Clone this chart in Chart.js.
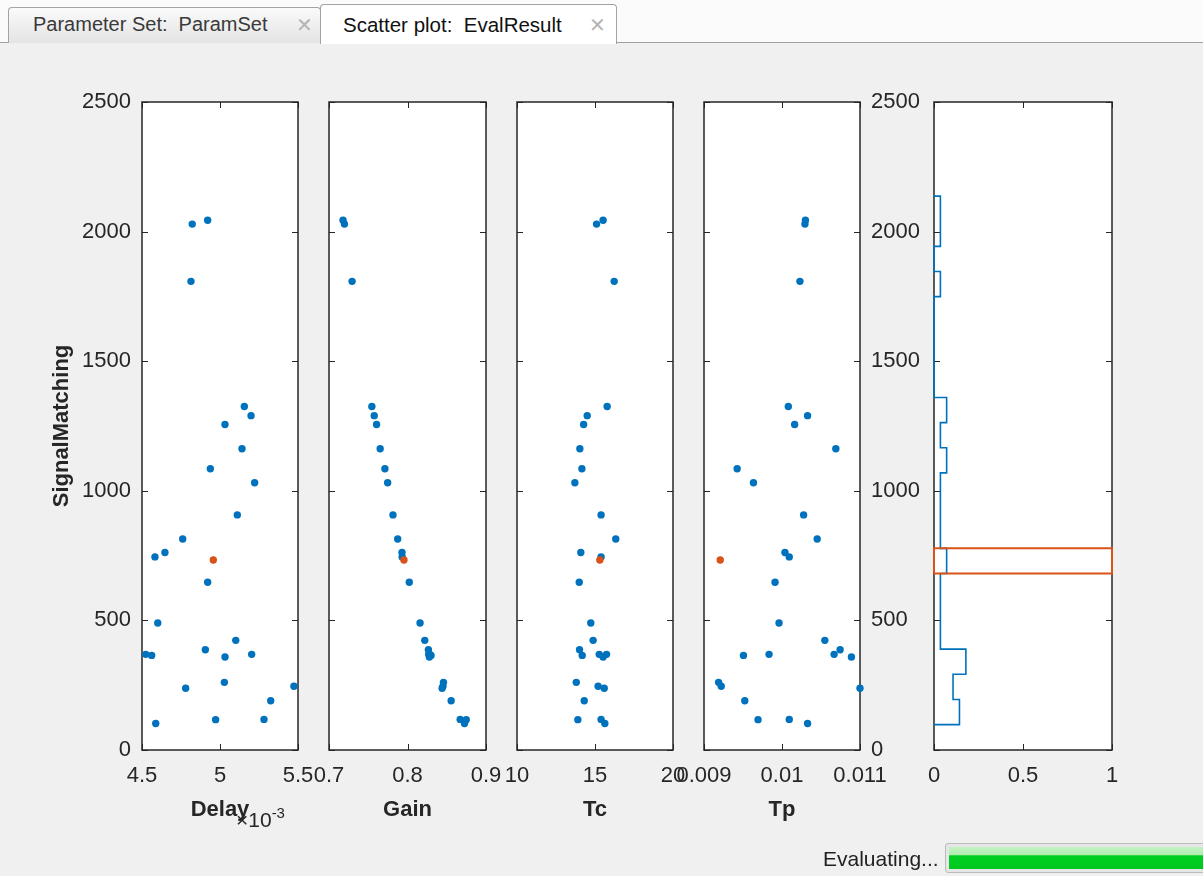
<!DOCTYPE html>
<html><head><meta charset="utf-8">
<script src="https://cdn.jsdelivr.net/npm/chart.js@4.4.1/dist/chart.umd.min.js"></script>
<style>
html,body{margin:0;padding:0;width:1203px;height:876px;overflow:hidden;background:#f0f0f0;font-family:"Liberation Sans",Arial,sans-serif;}
#strip{position:absolute;left:0;top:0;width:1203px;height:42px;background:#fbfbfb;border-bottom:1px solid #a0a0a0;}
.tab{position:absolute;box-sizing:border-box;border:1px solid #a3a3a3;border-bottom:none;border-radius:4px 4px 0 0;font-size:20px;white-space:pre;}
#tab1{left:8px;top:7px;width:313px;height:36px;background:linear-gradient(#fafafa,#e4e4e4);color:#3a3a3a;}
#tab2{left:320px;top:4px;width:297px;height:40px;background:#ffffff;color:#111;font-size:20.5px;}
.tab .lbl{position:absolute;}
#tab1 .lbl{left:24px;top:5px;}
#tab2 .lbl{left:22px;top:8px;}
.tab .x{position:absolute;color:#b5b5b5;font-size:20px;}
#tab1 .x{left:287px;top:5px;}
#tab2 .x{left:268px;top:8px;}
canvas{position:absolute;left:0;top:0;}
#expo{position:absolute;left:236px;top:808px;font-size:21px;color:#262626;white-space:nowrap;}
#expo sup{font-size:15px;position:relative;top:-4px;vertical-align:top;}
#evl{position:absolute;left:823px;top:847px;font-size:21px;color:#222;}
#bar{position:absolute;left:945px;top:843px;width:270px;height:30px;box-sizing:border-box;border:1px solid #bcbcbc;background:#e6e6e6;border-radius:3px;}
#bar div{position:absolute;left:3px;top:3px;right:3px;bottom:3px;background:linear-gradient(#c4f3c4 0%,#b0ecb0 35%,#00cf22 40%,#00c81f 100%);}
</style></head>
<body>
<div id="strip"></div>
<div class="tab" id="tab1"><span class="lbl">Parameter Set:  ParamSet</span><span class="x">✕</span></div>
<div class="tab" id="tab2"><span class="lbl">Scatter plot:  EvalResult</span><span class="x">✕</span></div>
<canvas id="c1" width="1203" height="876"></canvas>
<canvas id="c2" width="1203" height="876"></canvas>
<canvas id="c3" width="1203" height="876"></canvas>
<canvas id="c4" width="1203" height="876"></canvas>
<canvas id="c5" width="1203" height="876"></canvas>
<div id="expo">×10<sup>-3</sup></div>
<div id="evl">Evaluating...</div>
<div id="bar"><div></div></div>
<script>
// ---------------- data ----------------
const signalMatching = [2044,2029,1808,1325,1290,1256,1162,1085,1031,907,814,762,745,647,490,423,387,369,369,365,359,261,246,238,190,118,117,102];
const delayX1e3 = [4.921,4.822,4.814,5.156,5.199,5.032,5.141,4.938,5.222,5.111,4.761,4.647,4.583,4.921,4.601,5.101,4.906,4.524,5.203,4.562,5.032,5.028,5.474,4.780,5.325,5.282,4.972,4.588];
const gain = [0.7179,0.7197,0.7294,0.7546,0.7576,0.7606,0.7652,0.7712,0.7747,0.7815,0.7875,0.7930,0.7932,0.8023,0.8160,0.8220,0.8266,0.8270,0.8285,0.8300,0.8279,0.8458,0.8452,0.8441,0.8556,0.8671,0.8748,0.8726];
const tc = [15.52,15.10,16.23,15.78,14.50,14.27,14.03,14.16,13.71,15.39,16.33,14.09,15.39,13.99,14.73,14.88,14.01,15.27,15.74,14.18,15.52,13.80,15.20,15.59,14.31,15.39,13.90,15.63];
const tp = [0.010300,0.010294,0.010230,0.010081,0.010328,0.010162,0.010690,0.009425,0.009634,0.010277,0.010451,0.010038,0.010093,0.009911,0.009962,0.010549,0.010745,0.009834,0.010668,0.009506,0.010890,0.009187,0.009221,0.011000,0.009523,0.010093,0.009693,0.010328];
// current (highlighted) evaluation
const currentSM = 733, currentDelayX1e3 = 4.957, currentGain = 0.7955, currentTc = 15.31, currentTp = 0.009208;
// histogram (probability) of SignalMatching, horizontal stairs
const histEdges = [98,195,292,389,486,584,681,778,875,972,1069,1166,1263,1360,1457,1555,1652,1749,1846,1943,2040,2137];
const histProb = [0.143,0.107,0.179,0.036,0.036,0.036,0.071,0.036,0.036,0.036,0.071,0.036,0.071,0,0,0,0,0.036,0,0.036,0.036];
const highlightBin = 6;
// ticks
const yTicks = [0,500,1000,1500,2000,2500];
const delayTicks = [4.5,5,5.5], delayTickLabels = ['4.5','5','5.5'];
const gainTicks = [0.7,0.8,0.9], gainTickLabels = ['0.7','0.8','0.9'];
const tcTicks = [10,15,20], tcTickLabels = ['10','15','20'];
const tpTicks = [0.009,0.01,0.011], tpTickLabels = ['0.009','0.01','0.011'];
const probTicks = [0,0.5,1], probTickLabels = ['0','0.5','1'];

// ---------------- drawing ----------------
const BLUE = '#0072BD', ORANGE = '#D95319', AX = '#262626';
Chart.defaults.font.family = '"Liberation Sans", Arial, sans-serif';
Chart.defaults.color = AX;
const W = 1203, H = 876, TOP = 102, BOTTOM = 750, XAXH = 80;

const framePlugin = {
  id: 'frame',
  beforeDraw(chart) {
    const {ctx, chartArea: a} = chart;
    ctx.save(); ctx.fillStyle = '#fff';
    ctx.fillRect(a.left, a.top, a.right - a.left, a.bottom - a.top); ctx.restore();
  },
  beforeDatasetsDraw(chart) {
    const {ctx, chartArea: a, scales: {x, y}} = chart;
    const tl = 6;
    ctx.save();
    ctx.strokeStyle = AX; ctx.lineWidth = 1;
    ctx.beginPath();
    for (const t of x.ticks) {
      const px = Math.round(x.getPixelForValue(t.value)) + 0.5;
      ctx.moveTo(px, a.bottom); ctx.lineTo(px, a.bottom - tl);
      ctx.moveTo(px, a.top); ctx.lineTo(px, a.top + tl);
    }
    for (const t of y.ticks) {
      const py = Math.round(y.getPixelForValue(t.value)) + 0.5;
      ctx.moveTo(a.left, py); ctx.lineTo(a.left + tl, py);
      ctx.moveTo(a.right, py); ctx.lineTo(a.right - tl, py);
    }
    ctx.stroke();
    ctx.lineWidth = 1.5;
    ctx.strokeRect(a.left, a.top, a.right - a.left, a.bottom - a.top);
    ctx.restore();
  }
};

// yMode: 'left' (labels left), 'right' (labels right), 'none'
function makePanel(id, L, R, xr, xt, xtl, xTitle, yMode, yTitle, datasets) {
  const yW = yMode === 'none' ? 0 : (yTitle ? 100 : 70);
  const padL = yMode === 'left' ? L - yW : L;
  const padR = yMode === 'right' ? W - R - yW : W - R;
  new Chart(document.getElementById(id), {
    type: 'scatter',
    data: {datasets},
    options: {
      responsive: false, animation: false, devicePixelRatio: 1,
      events: [],
      layout: {padding: {left: padL, right: padR, top: TOP, bottom: H - BOTTOM - XAXH}},
      plugins: {legend: {display: false}, tooltip: {enabled: false}},
      scales: {
        x: {
          type: 'linear', min: xr[0], max: xr[1],
          afterBuildTicks: s => { s.ticks = xt.map(v => ({value: v})); },
          afterFit: s => { s.height = XAXH; },
          grid: {display: false, drawTicks: false},
          border: {display: false},
          ticks: {font: {size: 22}, padding: 13, maxRotation: 0, autoSkip: false,
                  callback: (v, i) => xtl[i]},
          title: {display: !!xTitle, text: xTitle, font: {size: 22, weight: 'bold'}, padding: {top: 0, bottom: 7}}
        },
        y: {
          type: 'linear', min: 0, max: 2500,
          position: yMode === 'right' ? 'right' : 'left',
          afterBuildTicks: s => { s.ticks = yTicks.map(v => ({value: v})); },
          afterFit: s => { s.width = yW; },
          grid: {display: false, drawTicks: false},
          border: {display: false},
          ticks: {display: yMode !== 'none', font: {size: 22}, padding: 11, autoSkip: false,
                  callback: v => String(v)},
          title: {display: !!yTitle, text: yTitle || '', font: {size: 22, weight: 'bold'}, padding: {top: 7, bottom: 0}}
        }
      }
    },
    plugins: [framePlugin]
  });
}

function scatterSets(xs, cx) {
  return [
    {data: [{x: cx, y: currentSM}], backgroundColor: ORANGE, pointRadius: 3.7, pointBorderWidth: 0, clip: false},
    {data: xs.map((v, i) => ({x: v, y: signalMatching[i]})), backgroundColor: BLUE, pointRadius: 3.7, pointBorderWidth: 0, clip: false}
  ];
}

makePanel('c1', 142, 298, [4.5, 5.5], delayTicks, delayTickLabels, 'Delay', 'left', 'SignalMatching', scatterSets(delayX1e3, currentDelayX1e3));
makePanel('c2', 329, 486, [0.7, 0.9], gainTicks, gainTickLabels, 'Gain', 'none', null, scatterSets(gain, currentGain));
makePanel('c3', 517, 673, [10, 20], tcTicks, tcTickLabels, 'Tc', 'none', null, scatterSets(tc, currentTc));
makePanel('c4', 704, 860, [0.009, 0.011], tpTicks, tpTickLabels, 'Tp', 'right', null, scatterSets(tp, currentTp));

// histogram stairs built from bin edges and probabilities
const stairs = [{x: 0, y: histEdges[0]}];
histProb.forEach((p, i) => { stairs.push({x: p, y: histEdges[i]}); stairs.push({x: p, y: histEdges[i + 1]}); });
stairs.push({x: 0, y: histEdges[histEdges.length - 1]});
const lo = histEdges[highlightBin], hi = histEdges[highlightBin + 1];
const box = [{x: 0, y: lo}, {x: 1, y: lo}, {x: 1, y: hi}, {x: 0, y: hi}, {x: 0, y: lo}];
makePanel('c5', 934, 1112, [0, 1], probTicks, probTickLabels, '', 'none', null, [
  {data: box, showLine: true, borderColor: ORANGE, borderWidth: 2, pointRadius: 0, clip: false, tension: 0},
  {data: stairs, showLine: true, borderColor: BLUE, borderWidth: 1.6, pointRadius: 0, clip: false, tension: 0}
]);
</script>
</body></html>
